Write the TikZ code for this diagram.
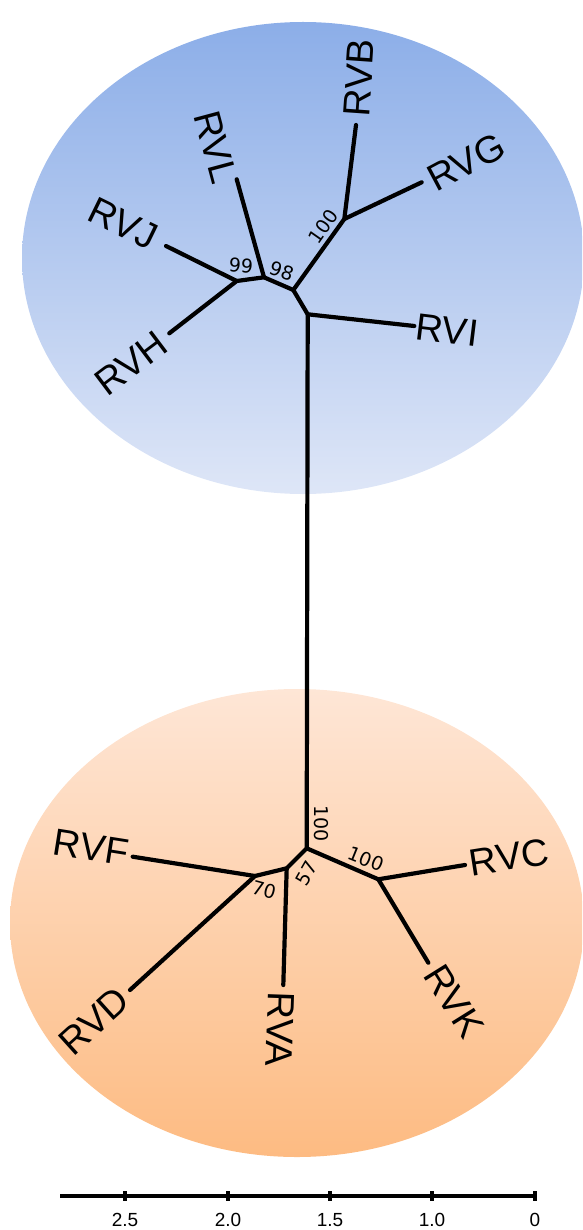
\documentclass[tikz,border=0pt]{standalone}
\usepackage{fontspec}
\setmainfont{Liberation Sans}
\newfontfamily\bootfont{DejaVu Sans}
\definecolor{bluetop}{HTML}{8CAEE8}
\definecolor{bluebot}{HTML}{DEE6F7}
\definecolor{orangetop}{HTML}{FEE6D6}
\definecolor{orangebot}{HTML}{FDBB82}
\tikzset{
  branch/.style={line width=4.2pt, line cap=round, line join=round},
  tiplabel/.style={font=\fontsize{38}{38}\selectfont, inner sep=0pt},
  bootlabel/.style={font=\bootfont\fontsize{19}{19}\selectfont, inner sep=0pt},
  scalelabel/.style={font=\fontsize{19}{19}\selectfont, inner sep=0pt},
  tick/.style={line width=3.4pt}
}
\begin{document}
\begin{tikzpicture}[x=1pt,y=-1pt]
\useasboundingbox (0,0) rectangle (582,1230);
\begin{scope}
\clip (0,0) rectangle (582,1230);
\shade[top color=bluetop, bottom color=bluebot] (303,258) ellipse (281 and 236);
\shade[top color=orangetop, bottom color=orangebot] (297,923) ellipse (287 and 234);
\end{scope}
% top tree coordinates
\coordinate (A) at (307.7,314.3);
\coordinate (B) at (293.3,290);
\coordinate (C) at (264,277.3);
\coordinate (D) at (236.7,281);
\coordinate (E) at (344.3,219);
\coordinate (tRVB) at (356,125);
\coordinate (tRVG) at (421.7,182.3);
\coordinate (tRVL) at (236.7,179.3);
\coordinate (tRVJ) at (166,246);
\coordinate (tRVH) at (169.3,333.3);
\coordinate (tRVI) at (414.3,326);
% bottom tree coordinates
\coordinate (R) at (306.7,848.3);
\coordinate (N57) at (286.7,868.3);
\coordinate (N70) at (255,876);
\coordinate (NC) at (378.3,879.3);
\coordinate (tRVF) at (132.7,856.7);
\coordinate (tRVD) at (130,990);
\coordinate (tRVA) at (283.3,985);
\coordinate (tRVC) at (465,865);
\coordinate (tRVK) at (428.3,962.7);
% branches
\draw[branch] (tRVH) -- (D) -- (C) -- (B) -- (A) -- (R) -- (N57) -- (N70) -- (tRVD);
\draw[branch] (tRVJ) -- (D);
\draw[branch] (tRVL) -- (C);
\draw[branch] (B) -- (E) -- (tRVB);
\draw[branch] (E) -- (tRVG);
\draw[branch] (A) -- (tRVI);
\draw[branch] (N70) -- (tRVF);
\draw[branch] (N57) -- (tRVA);
\draw[branch] (R) -- (NC) -- (tRVC);
\draw[branch] (NC) -- (tRVK);
% tip labels
\node[tiplabel, rotate=86] (lRVB) at (359,78) {RVB};
\node[tiplabel, rotate=28] (lRVG) at (466,162) {RVG};
\node[tiplabel, rotate=-75] (lRVL) at (216,147) {RVL};
\node[tiplabel, rotate=-26] (lRVJ) at (123,224) {RVJ};
\node[tiplabel, rotate=37] (lRVH) at (131,363) {RVH};
\node[tiplabel, rotate=-7] (lRVI) at (447,330) {RVI};
\node[tiplabel, rotate=-9] (lRVF) at (91,847) {RVF};
\node[tiplabel, rotate=42] (lRVD) at (94,1021) {RVD};
\node[tiplabel, rotate=-92] (lRVA) at (280,1029) {RVA};
\node[tiplabel, rotate=9] (lRVC) at (509,857) {RVC};
\node[tiplabel, rotate=-58] (lRVK) at (454,1001) {RVK};
% bootstrap labels
\node[bootlabel, rotate=-5] (b99) at (241,265.7) {99};
\node[bootlabel, rotate=-20] (b98) at (281.7,270.7) {98};
\node[bootlabel, rotate=55] (b100a) at (323.3,226.7) {100};
\node[bootlabel, rotate=-90] (b100b) at (321,823.3) {100};
\node[bootlabel, rotate=-22] (b100c) at (366,859.3) {100};
\node[bootlabel, rotate=60] (b57) at (306.7,873.3) {57};
\node[bootlabel, rotate=-15] (b70) at (264,890) {70};
% scale bar
\coordinate (s0) at (60,1196);
\coordinate (s1) at (537,1196);
\draw[line width=4.2pt] (s0) -- (s1);
\foreach \x/\lab/\nm in {125/2.5/a,228/2.0/b,330/1.5/c,432/1.0/d,535/0/e}{
  \coordinate (tk\nm) at (\x,1196);
  \draw[tick] ([yshift=5pt]tk\nm) -- ([yshift=-5pt]tk\nm);
  \node[scalelabel] (sl\nm) at (\x,1220) {\lab};
}
\end{tikzpicture}
\end{document}
